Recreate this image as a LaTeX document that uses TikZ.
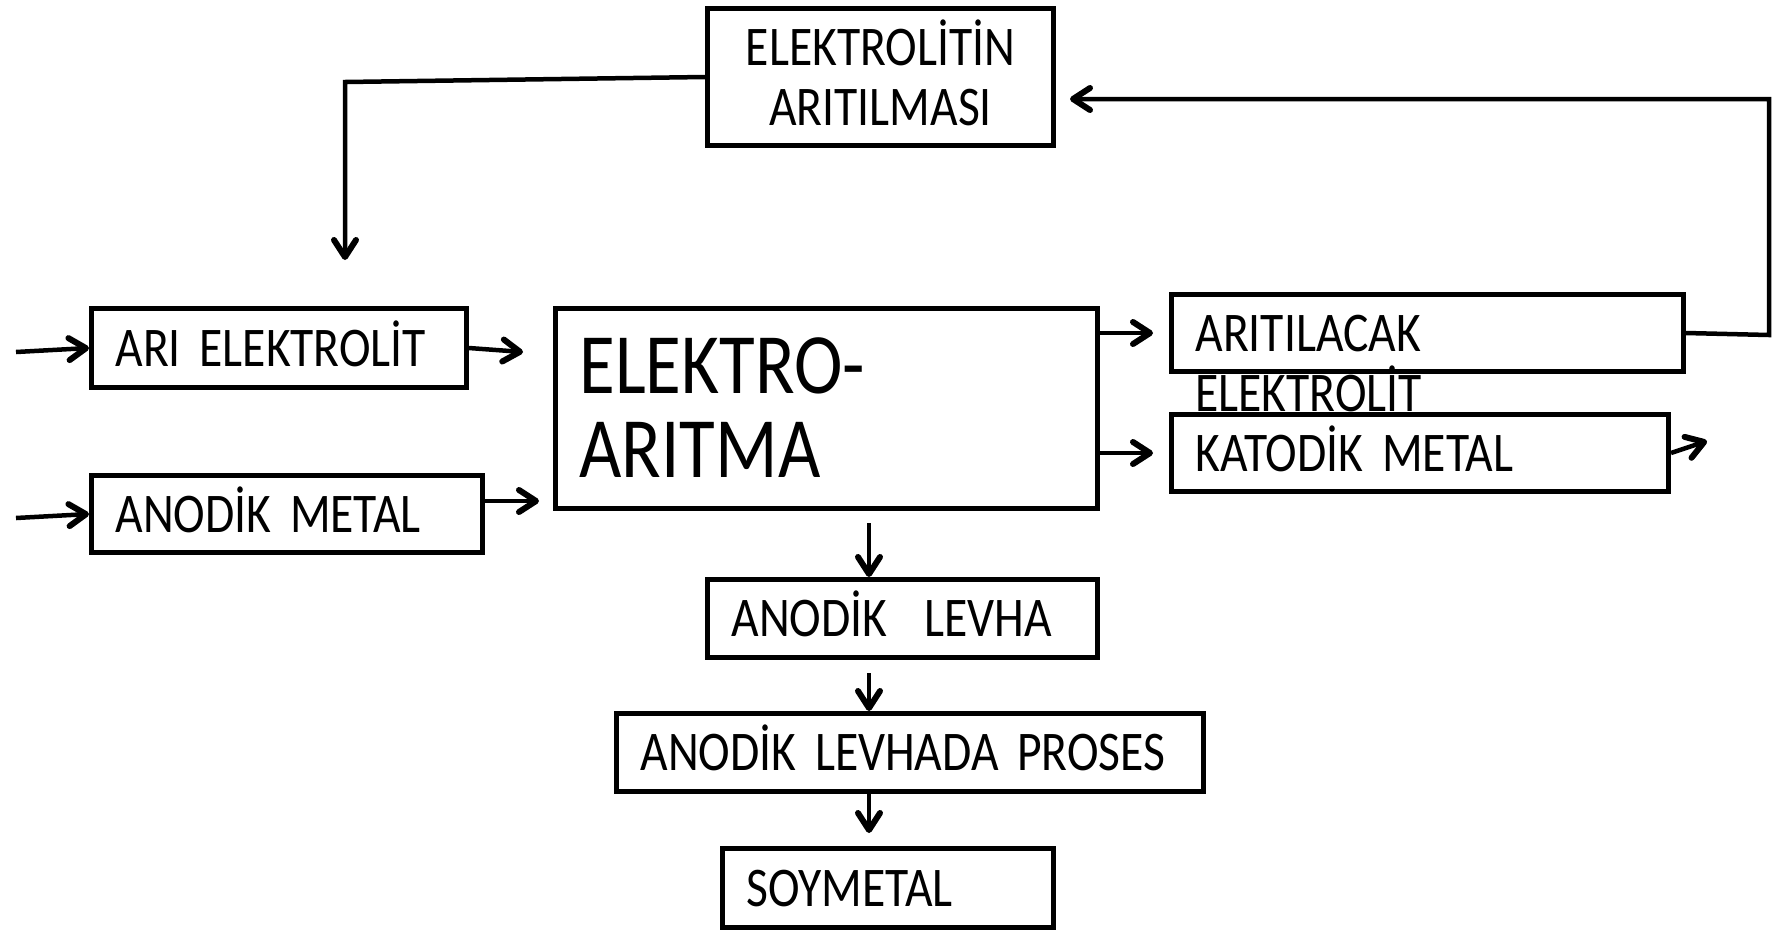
\documentclass[tikz,border=0pt]{standalone}
\usepackage{fontspec}
\setmainfont{Carlito}[FakeStretch=0.85, WordSpace=0.75]
\usetikzlibrary{arrows.meta,positioning,calc}
\newcommand{\kucuk}{\fontsize{56}{60}\selectfont}
\newcommand{\buyuk}{\fontsize{86}{84}\selectfont}

\begin{document}
\begin{tikzpicture}[x=1pt, y=-1pt, >={Straight Barb[length=17pt,width=22pt,line width=6pt,round]},
  kutu/.style={draw, line width=5pt, anchor=north west, align=left, inner xsep=24pt, inner ysep=0pt, font=\kucuk, text height=36pt, text depth=0pt},
  ok/.style={->, line width=4.5pt}]
  \useasboundingbox (0,0) rectangle (1776,930);
  % kutular
  \node[kutu, align=center, text width=298pt, minimum height=137pt, text depth=60pt] (arit) at (705,6) {ELEKTROLİTİN\\ARITILMASI};
  \node[kutu, text width=327pt, minimum height=79pt] (ari) at (89,306) {ARI ELEKTROLİT};
  \node[kutu, text width=343pt, minimum height=77pt] (anodik) at (89,473) {ANODİK METAL};
  \node[kutu, font=\buyuk, text width=494pt, minimum height=200pt, text height=54pt, text depth=84pt] (ea) at (553,306) {ELEKTRO-\\ARITMA};
  \node[kutu, text width=464pt, minimum height=77pt] (aritilacak) at (1169,292) {ARITILACAK\\ELEKTROLİT};
  \node[kutu, text width=449pt, minimum height=77pt] (katodik) at (1169,412) {KATODİK METAL};
  \node[kutu, text width=342pt, minimum height=78pt] (levha) at (705,577) {ANODİK~ LEVHA};
  \node[kutu, text width=539pt, minimum height=78pt] (proses) at (614,711) {ANODİK LEVHADA PROSES};
  \node[kutu, text width=283pt, minimum height=79pt] (soy) at (720,846) {SOYMETAL};
  % oklar
  \coordinate (g1) at (16,352);
  \coordinate (g2) at (16,518);
  \coordinate (a1) at (523,352);
  \coordinate (c1) at (345,82);
  \coordinate (c2) at (345,260);
  \coordinate (d1) at (1769,335);
  \coordinate (k1) at (1707,441);
  \coordinate (orta) at (869,0);
  \draw[ok] (g1) -- (ari.west);
  \draw[ok] (g2) -- (anodik.west);
  \draw[ok] (ari.east) -- (a1);
  \draw[ok, shorten >=14pt] ([yshift=13pt]anodik.east) -- ([yshift=13pt]anodik.east -| ea.west);
  \draw[ok, shorten >=16pt] (ea.east |- aritilacak.west) -- (aritilacak.west);
  \draw[ok, shorten >=16pt] (ea.east |- katodik.west) -- (katodik.west);
  \draw[ok] (katodik.east) -- (k1);
  \draw[ok, shorten >=14pt] (aritilacak.east) -- (d1) |- ([yshift=-22pt]arit.east);
  \draw[ok] (arit.west) -- (c1) -- (c2);
  \draw[ok] ([yshift=-12pt]orta |- ea.south) -- (orta |- levha.north);
  \draw[ok] ([yshift=-13pt]orta |- levha.south) -- (orta |- proses.north);
  \draw[ok, shorten >=13pt] (orta |- proses.south) -- (orta |- soy.north);
\end{tikzpicture}
\end{document}
